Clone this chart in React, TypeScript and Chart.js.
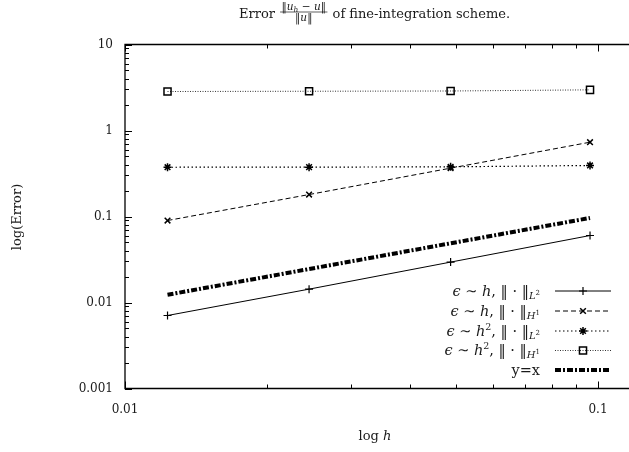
import React, { useEffect, useRef } from "react";
import { Chart, registerables } from "chart.js";

Chart.register(...registerables);

// ---- data ----
const hValues = [0.0123, 0.0245, 0.0488, 0.0962];
const errL2h = [0.00706, 0.0143, 0.0295, 0.0601];
const errH1h = [0.0898, 0.18, 0.365, 0.731];
const errL2h2 = [0.374, 0.375, 0.378, 0.392];
const errH1h2 = [2.84, 2.86, 2.88, 2.97];
const refYX = [0.0123, 0.0245, 0.0488, 0.0962];

const xTickLabels = ["0.01", "0.1"];
const yTickLabels = ["0.001", "0.01", "0.1", "1", "10"];

const FONT = '"DejaVu Serif", serif';
const INK = "#1a1a1a";

type Part = { t: string; it?: boolean; s: number; dy?: number };

const epsH: Part[] = [
  { t: "ϵ", it: true, s: 14.5 },
  { t: " ∼ ", s: 14.5 },
  { t: "h", it: true, s: 14.5 },
];
const epsH2: Part[] = [...epsH, { t: "2", s: 9.5, dy: -6 }];
const normL2: Part[] = [
  { t: ", ‖ · ‖", s: 14.5 },
  { t: "L", it: true, s: 10, dy: 3 },
  { t: "2", s: 7, dy: -1 },
];
const normH1: Part[] = [
  { t: ", ‖ · ‖", s: 14.5 },
  { t: "H", it: true, s: 10, dy: 3 },
  { t: "1", s: 7, dy: -1 },
];
const legendLabels: Part[][] = [
  [...epsH, ...normL2],
  [...epsH, ...normH1],
  [...epsH2, ...normL2],
  [...epsH2, ...normH1],
  [{ t: "y=x", s: 14.5 }],
];

function setFont(ctx: CanvasRenderingContext2D, p: Part) {
  ctx.font = `${p.it ? "italic " : ""}${p.s}px ${FONT}`;
}
function partsWidth(ctx: CanvasRenderingContext2D, parts: Part[]) {
  let w = 0;
  for (const p of parts) {
    setFont(ctx, p);
    w += ctx.measureText(p.t).width;
  }
  return w;
}
function drawParts(ctx: CanvasRenderingContext2D, parts: Part[], x: number, baseline: number) {
  let cx = x;
  ctx.textAlign = "left";
  ctx.textBaseline = "alphabetic";
  for (const p of parts) {
    setFont(ctx, p);
    ctx.fillText(p.t, cx, baseline + (p.dy || 0));
    cx += ctx.measureText(p.t).width;
  }
  return cx;
}

function drawMarker(ctx: CanvasRenderingContext2D, style: string, x: number, y: number, r: number) {
  ctx.beginPath();
  if (style === "cross" || style === "star") {
    ctx.moveTo(x - r, y);
    ctx.lineTo(x + r, y);
    ctx.moveTo(x, y - r);
    ctx.lineTo(x, y + r);
  }
  if (style === "crossRot" || style === "star") {
    const d = r * Math.SQRT1_2;
    ctx.moveTo(x - d, y - d);
    ctx.lineTo(x + d, y + d);
    ctx.moveTo(x - d, y + d);
    ctx.lineTo(x + d, y - d);
  }
  if (style === "rect") {
    const s = r * Math.SQRT1_2;
    ctx.rect(x - s, y - s, 2 * s, 2 * s);
  }
  ctx.stroke();
}

function logTickValues(min: number, max: number) {
  const out: { v: number; major: boolean }[] = [];
  for (let e = Math.floor(Math.log10(min)); e <= Math.ceil(Math.log10(max)); e++) {
    for (let k = 1; k <= 9; k++) {
      const v = k * Math.pow(10, e);
      if (v >= min * (1 - 1e-9) && v <= max * (1 + 1e-9)) out.push({ v, major: k === 1 });
    }
  }
  return out;
}

function isDecade(v: number) {
  const l = Math.log10(v);
  return Math.abs(l - Math.round(l)) < 1e-6;
}

const decorPlugin = {
  id: "decor",
  afterDraw(chart: any) {
    const ctx: CanvasRenderingContext2D = chart.ctx;
    const { left, top, bottom, right } = chart.chartArea;
    const xs = chart.scales.x;
    const ys = chart.scales.y;
    ctx.save();
    // frame
    ctx.strokeStyle = "#000";
    ctx.lineWidth = 1.3;
    ctx.setLineDash([]);
    ctx.beginPath();
    ctx.moveTo(right + 5, top);
    ctx.lineTo(left, top);
    ctx.lineTo(left, bottom);
    ctx.lineTo(right + 5, bottom);
    ctx.stroke();
    // ticks
    ctx.lineWidth = 1;
    ctx.beginPath();
    for (const t of logTickValues(ys.min, ys.max)) {
      const py = Math.round(ys.getPixelForValue(t.v)) + 0.5;
      const len = t.major ? 7 : 4;
      ctx.moveTo(left, py);
      ctx.lineTo(left + len, py);
    }
    for (const t of logTickValues(xs.min, xs.max)) {
      const px = Math.round(xs.getPixelForValue(t.v)) + 0.5;
      const len = t.major ? 7 : 4;
      ctx.moveTo(px, bottom);
      ctx.lineTo(px, bottom - len);
      ctx.moveTo(px, top);
      ctx.lineTo(px, top + len);
    }
    ctx.stroke();

    ctx.fillStyle = INK;
    // title
    let cx = 239;
    const base = 17.5;
    cx = drawParts(ctx, [{ t: "Error ", s: 13 }], cx, base);
    const num: Part[] = [
      { t: "‖", s: 10.5 },
      { t: "u", it: true, s: 10.5 },
      { t: "h", it: true, s: 7.5, dy: 1.5 },
      { t: " − ", s: 10.5 },
      { t: "u", it: true, s: 10.5 },
      { t: "‖", s: 10.5 },
    ];
    const den: Part[] = [
      { t: "‖", s: 10.5 },
      { t: "u", it: true, s: 10.5 },
      { t: "‖", s: 10.5 },
    ];
    const nw = partsWidth(ctx, num);
    const dw = partsWidth(ctx, den);
    const fw = Math.max(nw, dw) + 3;
    const fx = cx + 1;
    drawParts(ctx, num, fx + (fw - nw) / 2, 10);
    drawParts(ctx, den, fx + (fw - dw) / 2, 20.5);
    ctx.strokeStyle = INK;
    ctx.lineWidth = 0.7;
    ctx.beginPath();
    ctx.moveTo(fx, 12);
    ctx.lineTo(fx + fw, 12);
    ctx.stroke();
    drawParts(ctx, [{ t: " of fine-integration scheme.", s: 13 }], fx + fw + 1, base);

    // x label
    const xl: Part[] = [{ t: "log ", s: 13 }, { t: "h", it: true, s: 13 }];
    const xw = partsWidth(ctx, xl);
    drawParts(ctx, xl, 375 - xw / 2, 440);

    // y label
    ctx.save();
    ctx.translate(21, 217);
    ctx.rotate(-Math.PI / 2);
    ctx.font = `13px ${FONT}`;
    ctx.textAlign = "center";
    ctx.textBaseline = "alphabetic";
    ctx.fillText("log(Error)", 0, 0);
    ctx.restore();

    // legend
    const rowY = [291, 311, 331, 350.5, 370];
    chart.data.datasets.forEach((ds: any, i: number) => {
      const y = rowY[i];
      const parts = legendLabels[i];
      const w = partsWidth(ctx, parts);
      ctx.fillStyle = INK;
      drawParts(ctx, parts, 540 - w, y + 4.5);
      ctx.strokeStyle = "#000";
      ctx.lineWidth = ds.borderWidth;
      ctx.setLineDash(ds.borderDash || []);
      ctx.beginPath();
      ctx.moveTo(555, y);
      ctx.lineTo(611, y);
      ctx.stroke();
      ctx.setLineDash([]);
      if (ds.pointRadius > 0) {
        ctx.lineWidth = ds.pointBorderWidth;
        drawMarker(ctx, ds.pointStyle, 583, y, ds.pointRadius);
      }
    });
    ctx.restore();
  },
};

function toXY(ys: number[]) {
  return ys.map((y, i) => ({ x: hValues[i], y }));
}

export default function App() {
  const ref = useRef<HTMLCanvasElement>(null);
  useEffect(() => {
    if (!ref.current) return;
    const labelFor = (v: number, list: string[]) => {
      if (!isDecade(v)) return "";
      const found = list.find((s) => Math.abs(parseFloat(s) - v) / v < 1e-6);
      return found ?? "";
    };
    const chart = new Chart(ref.current, {
      type: "line",
      data: {
        datasets: [
          {
            label: "L2 h",
            data: toXY(errL2h),
            borderColor: "#000",
            borderWidth: 1,
            borderDash: [],
            pointStyle: "cross",
            pointRadius: 4,
            pointBorderWidth: 1.2,
            pointBorderColor: "#000",
            pointBackgroundColor: "transparent",
          },
          {
            label: "H1 h",
            data: toXY(errH1h),
            borderColor: "#000",
            borderWidth: 1,
            borderDash: [5, 3],
            pointStyle: "crossRot",
            pointRadius: 4,
            pointBorderWidth: 1.5,
            pointBorderColor: "#000",
            pointBackgroundColor: "transparent",
          },
          {
            label: "L2 h2",
            data: toXY(errL2h2),
            borderColor: "#000",
            borderWidth: 1.2,
            borderDash: [1.5, 2.5],
            pointStyle: "star",
            pointRadius: 4,
            pointBorderWidth: 1.5,
            pointBorderColor: "#000",
            pointBackgroundColor: "transparent",
          },
          {
            label: "H1 h2",
            data: toXY(errH1h2),
            borderColor: "#000",
            borderWidth: 0.8,
            borderDash: [1, 1.5],
            pointStyle: "rect",
            pointRadius: 5,
            pointBorderWidth: 1.5,
            pointBorderColor: "#000",
            pointBackgroundColor: "transparent",
          },
          {
            label: "y=x",
            data: toXY(refYX),
            borderColor: "#000",
            borderWidth: 4,
            borderDash: [6, 2, 2, 2],
            pointRadius: 0,
            pointBorderWidth: 0,
          },
        ],
      },
      options: {
        animation: false,
        responsive: true,
        maintainAspectRatio: false,
        layout: { autoPadding: false, padding: { left: 0, top: 44.5, right: 0, bottom: 0 } },
        plugins: { legend: { display: false }, title: { display: false }, tooltip: { enabled: false } },
        elements: { line: { tension: 0, borderCapStyle: "butt" } },
        scales: {
          x: {
            type: "logarithmic",
            min: 0.01,
            max: 0.1163,
            grid: { display: false, drawTicks: false },
            border: { display: false },
            afterFit: (s: any) => {
              s.height = 63.5;
              s.paddingRight = 0;
              s.paddingLeft = 0;
            },
            ticks: {
              autoSkip: false,
              maxRotation: 0,
              padding: 14,
              color: INK,
              font: { family: FONT, size: 12 },
              callback: (v: any) => labelFor(Number(v), xTickLabels),
            },
          },
          y: {
            type: "logarithmic",
            min: 0.001,
            max: 10,
            grid: { display: false, drawTicks: false },
            border: { display: false },
            afterFit: (s: any) => {
              s.width = 125;
              s.paddingTop = 0;
              s.paddingBottom = 0;
            },
            ticks: {
              autoSkip: false,
              padding: 12,
              color: INK,
              font: { family: FONT, size: 12 },
              callback: (v: any) => labelFor(Number(v), yTickLabels),
            },
          },
        },
      },
      plugins: [decorPlugin],
    });
    return () => chart.destroy();
  }, []);
  return (
    <div style={{ position: "absolute", left: 0, top: 0, width: 629, height: 452, background: "#fff" }}>
      <canvas ref={ref} />
    </div>
  );
}
